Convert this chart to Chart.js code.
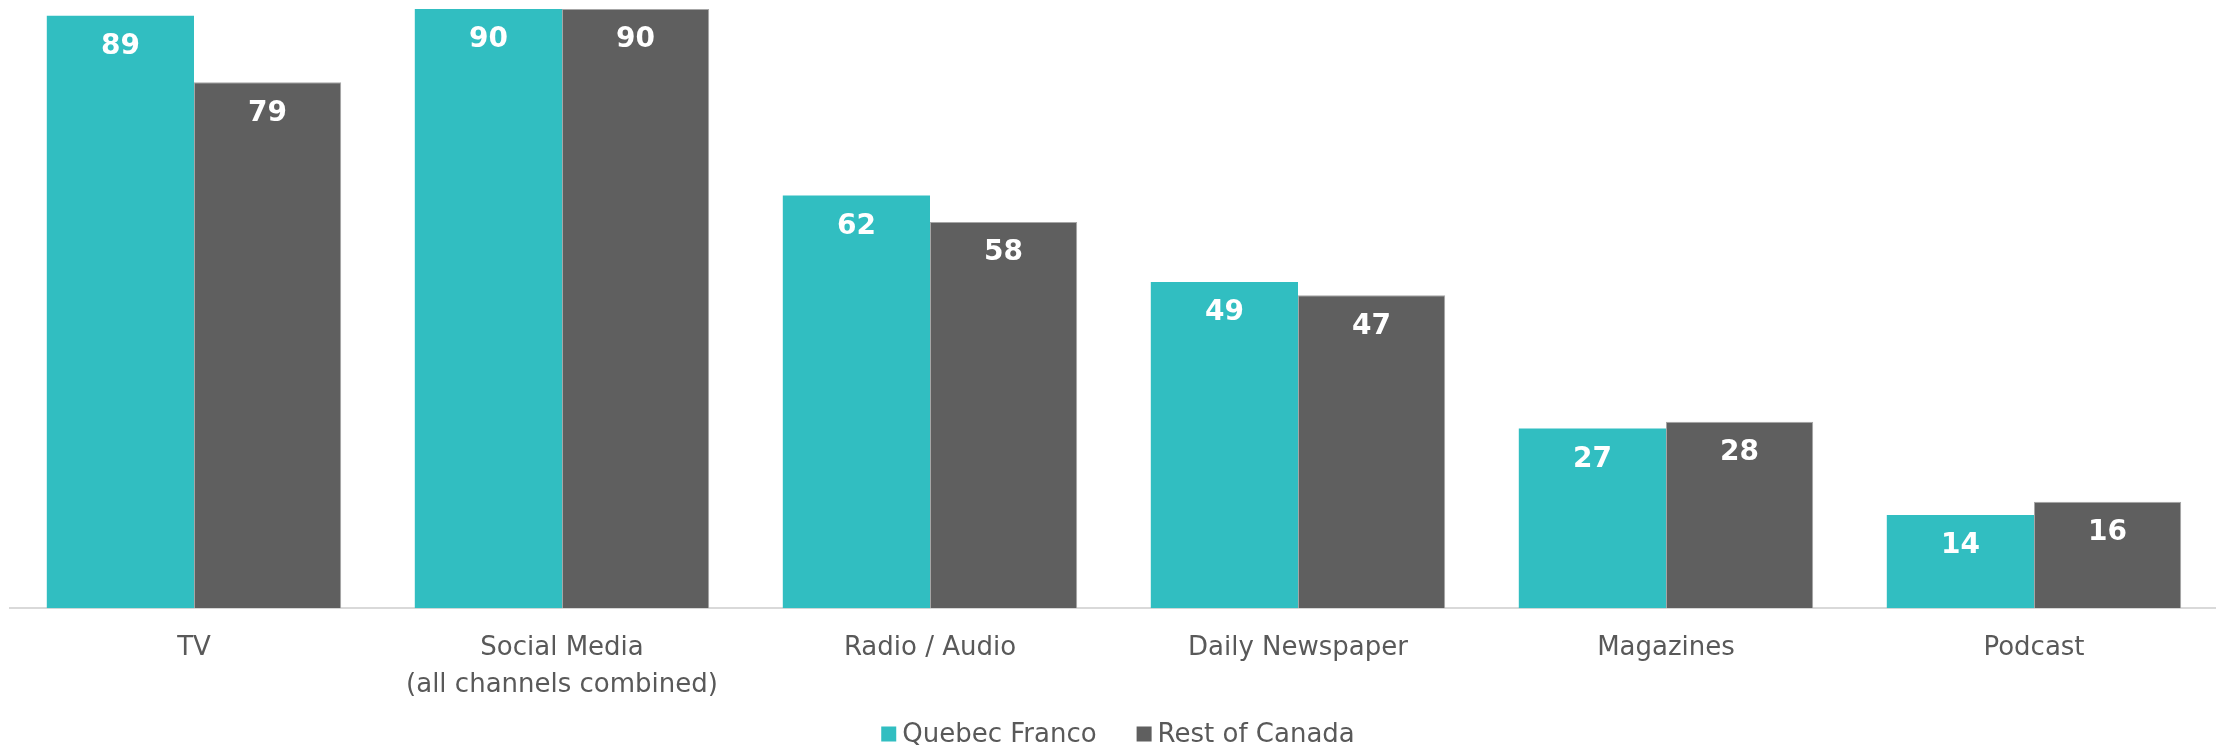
<!DOCTYPE html>
<html>
<head>
<meta charset="utf-8">
<script src="https://cdn.jsdelivr.net/npm/chart.js@4/dist/chart.umd.min.js"></script>
<style>
  html, body { margin: 0; padding: 0; background: #fff; overflow: hidden; }
  #wrap { width: 2228px; height: 747px; }
</style>
</head>
<body>
<div id="wrap"><canvas id="myBarChart" width="2228" height="747"></canvas></div>
<script>
const categories = ["TV", ["Social Media", "(all channels combined)"], "Radio / Audio", "Daily Newspaper", "Magazines", "Podcast"];
const seriesNames = ["Quebec Franco", "Rest of Canada"];
const quebecFranco = [89, 90, 62, 49, 27, 14];
const restOfCanada = [79, 90, 58, 47, 28, 16];
const yMax = 90;

const TEAL = '#31BEC1';
const GREY = '#5F5F5F';
const TEXT = '#595959';
const FONT = '"DejaVu Sans", Verdana, sans-serif';

// white value labels just under the top of each bar
const barLabels = {
    id: 'barLabels',
    afterDatasetsDraw(chart) {
        const c = chart.ctx;
        c.save();
        c.fillStyle = '#ffffff';
        c.font = 'bold 28px ' + FONT;
        c.textAlign = 'center';
        c.textBaseline = 'middle';
        chart.data.datasets.forEach(function (ds, i) {
            chart.getDatasetMeta(i).data.forEach(function (bar, j) {
                c.fillText(ds.data[j], bar.x, bar.y + 31);
            });
        });
        c.restore();
    }
};

// legend drawn by hand so the spacing matches
const bottomLegend = {
    id: 'bottomLegend',
    afterDraw(chart) {
        const c = chart.ctx;
        const box = 15, gapText = 6, gapItem = 40, yMid = 734;
        c.save();
        c.font = '26px ' + FONT;
        c.textBaseline = 'middle';
        const items = chart.data.datasets.map(function (ds) {
            return { text: ds.label, color: ds.backgroundColor, w: c.measureText(ds.label).width };
        });
        let total = 0;
        items.forEach(function (it, i) { total += box + gapText + it.w + (i ? gapItem : 0); });
        let x = (chart.chartArea.left + chart.chartArea.right) / 2 + 4 - total / 2;
        items.forEach(function (it) {
            c.fillStyle = it.color;
            c.fillRect(x, yMid - 7.5, box, box);
            c.fillStyle = TEXT;
            c.fillText(it.text, x + box + gapText, yMid + 1);
            x += box + gapText + it.w + gapItem;
        });
        c.restore();
    }
};

var ctx = document.getElementById("myBarChart");
var myBarChart = new Chart(ctx, {
    type: 'bar',
    data: {
        labels: categories,
        datasets: [{
            label: seriesNames[0],
            data: quebecFranco,
            backgroundColor: TEAL,
            borderWidth: 0,
            categoryPercentage: 0.8,
            barPercentage: 1.0
        }, {
            label: seriesNames[1],
            data: restOfCanada,
            backgroundColor: GREY,
            borderColor: '#A6A6A6',
            borderWidth: 1,
            categoryPercentage: 0.8,
            barPercentage: 1.0
        }]
    },
    options: {
        responsive: false,
        animation: false,
        devicePixelRatio: 1,
        layout: {
            padding: { left: 10, right: 10, top: 9, bottom: 21 }
        },
        plugins: {
            legend: { display: false },
            tooltip: { enabled: false }
        },
        scales: {
            x: {
                grid: { display: false, drawTicks: false },
                border: { display: true, color: '#D9D9D9', width: 2 },
                ticks: {
                    color: TEXT,
                    padding: 22,
                    maxRotation: 0,
                    autoSkip: false,
                    font: { family: FONT, size: 26, lineHeight: 1.42 }
                }
            },
            y: {
                display: false,
                min: 0,
                max: yMax
            }
        }
    },
    plugins: [barLabels, bottomLegend]
});
</script>
</body>
</html>
